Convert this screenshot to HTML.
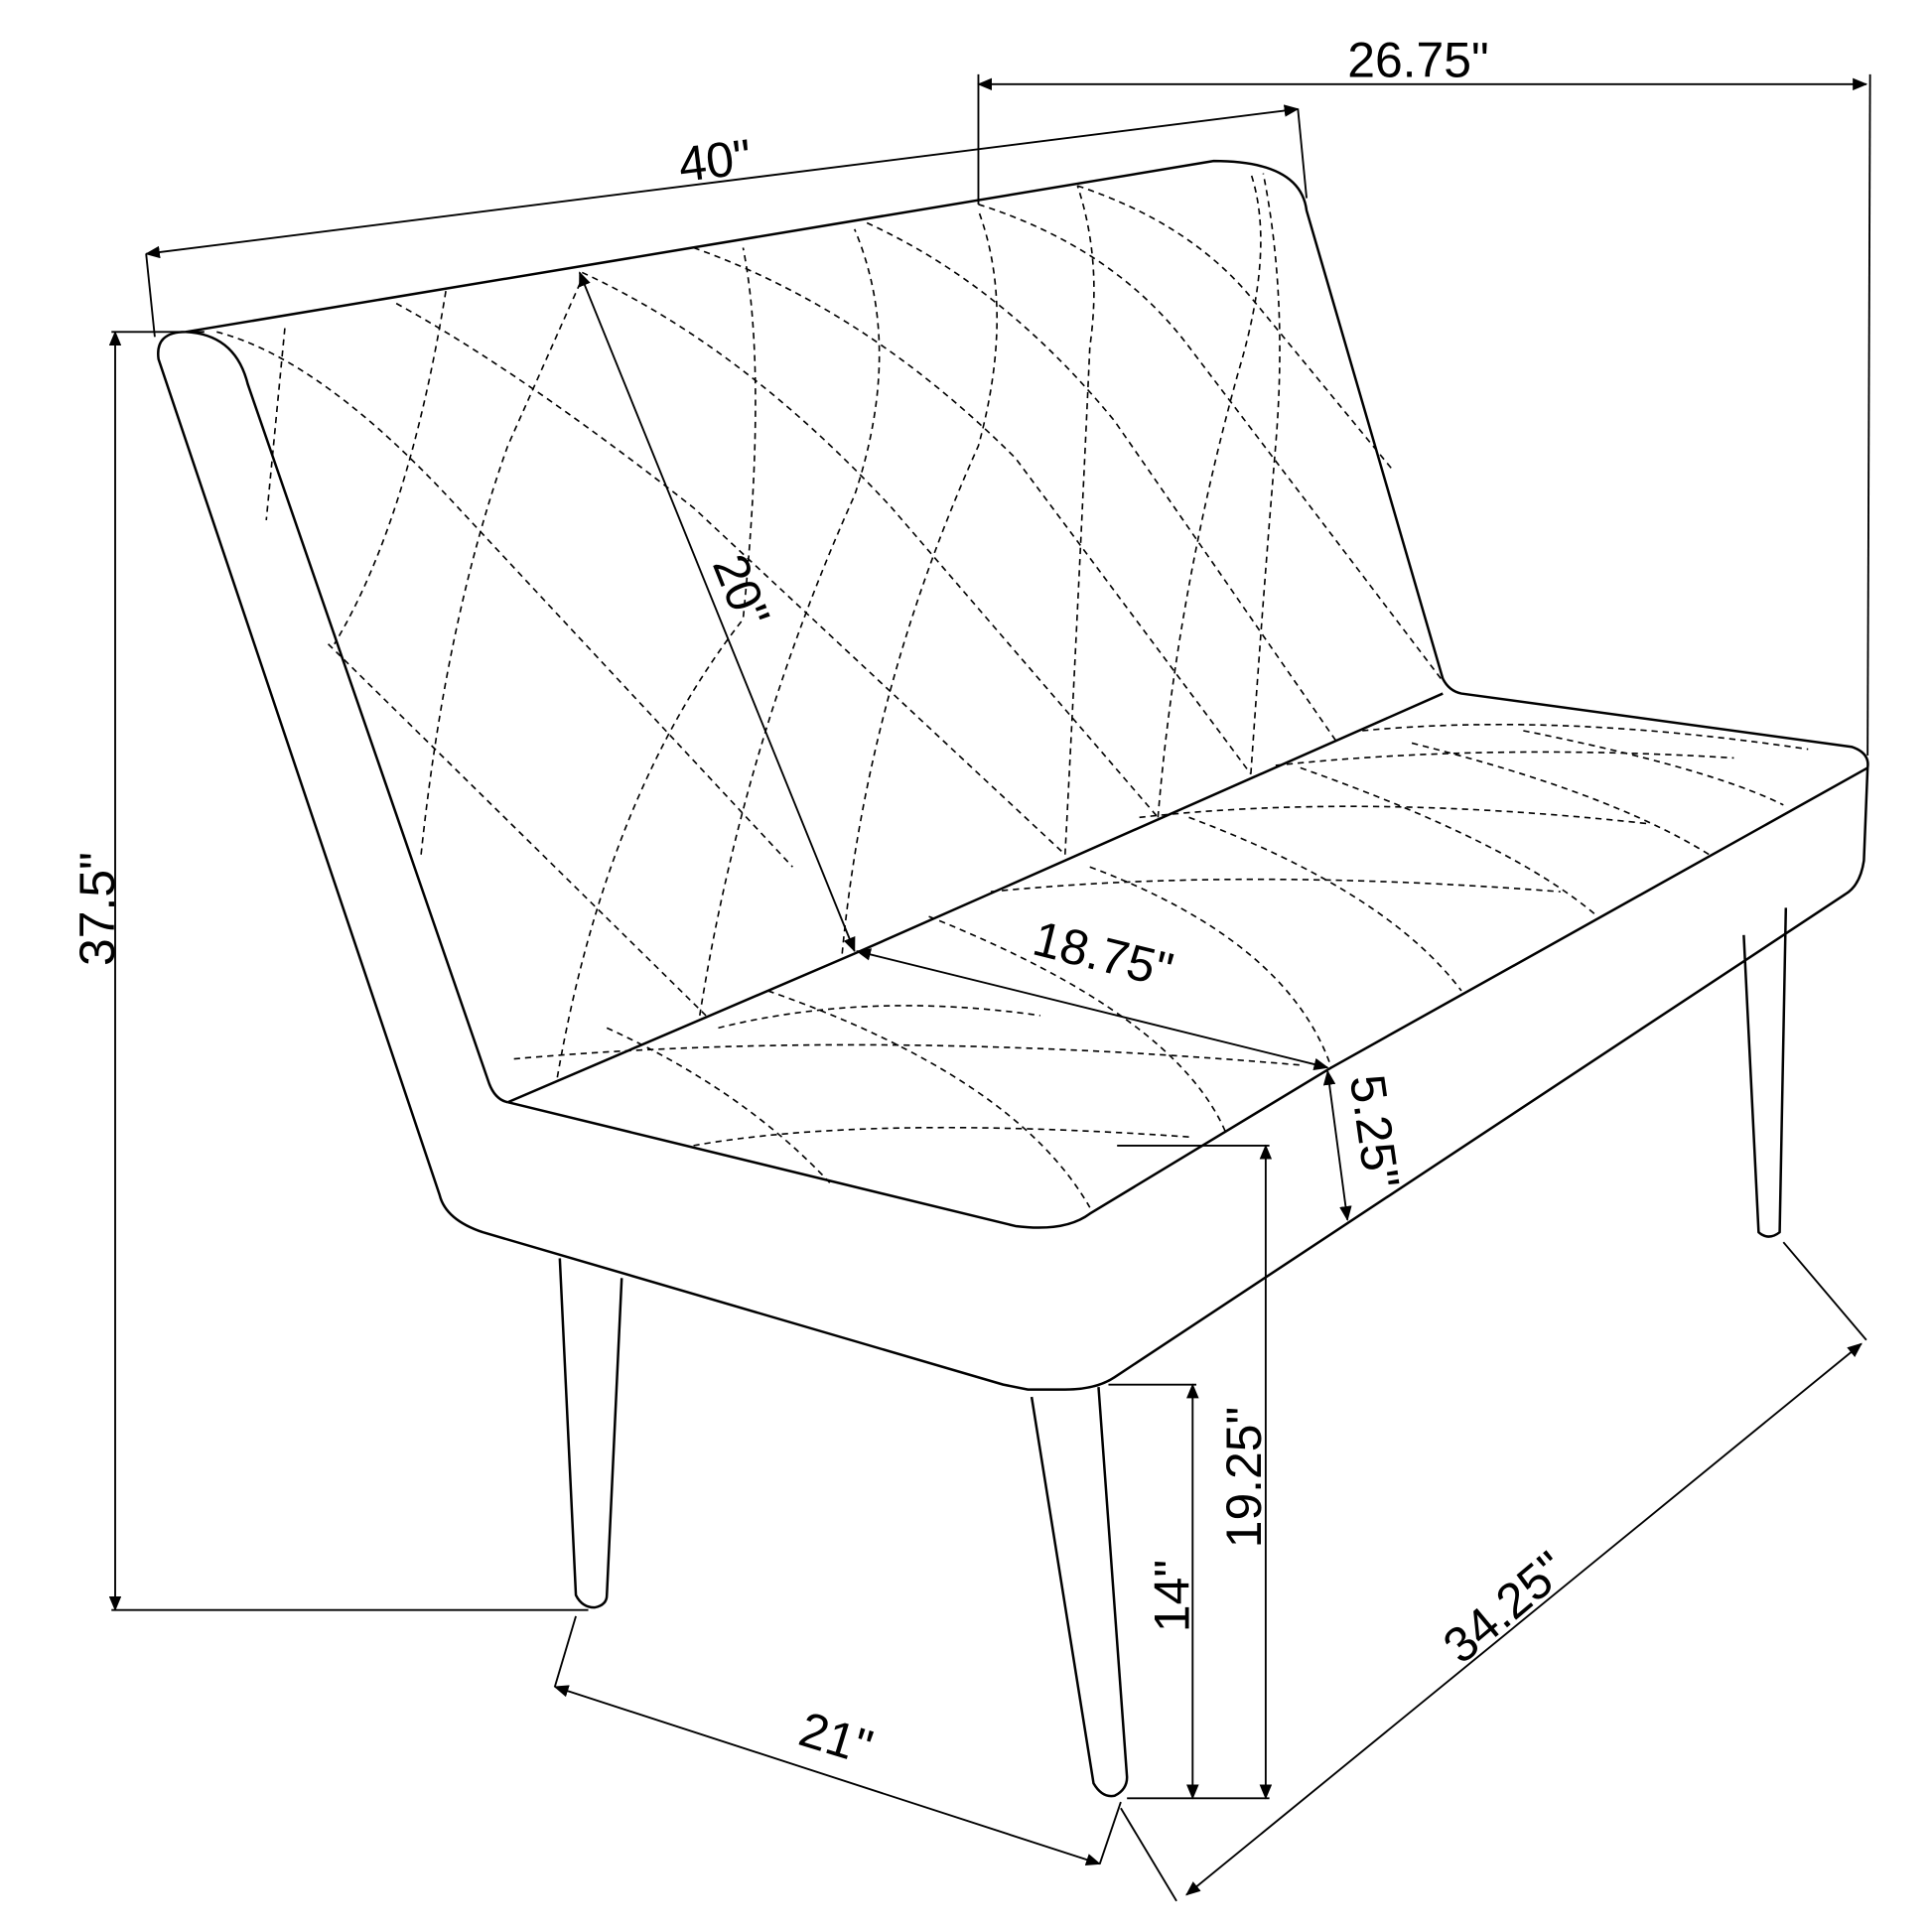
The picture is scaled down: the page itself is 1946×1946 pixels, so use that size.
<!DOCTYPE html>
<html><head><meta charset="utf-8"><style>
html,body{margin:0;padding:0;background:#fff;}
svg{display:block}
text{font-family:"Liberation Sans",sans-serif;font-size:40px;fill:#000}
</style></head><body>
<svg width="1946" height="1946" viewBox="0 0 1560 1560" xmlns="http://www.w3.org/2000/svg">
<defs>
<marker id="a" markerWidth="12" markerHeight="10" refX="11" refY="5" orient="auto-start-reverse" markerUnits="userSpaceOnUse" viewBox="0 0 12 10"><path d="M0,0 L12,5 L0,10 z" fill="#000"/></marker>
</defs>
<g fill="none" stroke="#000" stroke-width="2" stroke-linejoin="round">
<!-- backrest outer -->
<path d="M390,995 Q360,985 355,965 L128,290 Q125,268 150,268 L980,130 Q1050,130 1055,170 L1165,548 Q1170,558 1180,560 L1495,603 Q1510,608 1508,620 L1505,695 Q1502,715 1490,722 L900,1112 Q885,1122 860,1122 L830,1122 Q820,1120 810,1118 L390,995"/>
<path d="M150,268 Q190,270 200,310 L395,875 Q400,888 410,890"/>
<path d="M410,890 L820,990 Q860,995 880,980 L1075,862 L1508,620"/>
<path d="M410,890 L690,770 L1165,560"/>
<!-- legs -->
<path d="M452,1016 L465,1288 Q470,1298 480,1298 Q490,1296 490,1288 L502,1032"/>
<path d="M833,1128 L883,1440 Q890,1452 900,1450 Q910,1445 910,1435 L887,1120"/>
<path d="M1408,755 L1420,995 Q1428,1002 1437,995 L1442,733"/>
</g>
<!-- quilting -->
<g fill="none" stroke="#000" stroke-width="1.3" stroke-dasharray="5,4">
<path d="M175,268 Q260,290 370,410 L640,700"/>
<path d="M320,245 Q420,300 560,410 L860,690"/>
<path d="M470,220 Q600,280 720,410 L935,660"/>
<path d="M560,200 Q700,250 820,370 L1010,625"/>
<path d="M700,180 Q810,230 900,340 L1080,600"/>
<path d="M790,165 Q900,200 960,280 L1165,550"/>
<path d="M870,150 Q960,180 1010,240 L1125,380"/>
<path d="M230,265 L215,420"/>
<path d="M360,235 Q330,420 270,520"/>
<path d="M265,520 L570,820"/>
<path d="M340,690 Q360,500 410,360 L470,225"/>
<path d="M450,870 Q490,640 600,500 Q620,300 600,200"/>
<path d="M565,820 Q600,600 690,400 Q730,280 690,185"/>
<path d="M680,770 Q700,560 790,360 Q820,250 790,170"/>
<path d="M860,690 Q870,500 880,280 Q890,210 870,150"/>
<path d="M935,660 Q950,480 1000,300 Q1030,200 1010,140"/>
<path d="M1010,625 Q1020,480 1030,360 Q1040,240 1020,140"/>
<path d="M415,855 Q700,830 1050,860"/>
<path d="M560,925 Q700,900 960,918"/>
<path d="M580,830 Q700,800 840,820"/>
<path d="M800,720 Q1000,700 1260,720"/>
<path d="M920,660 Q1100,640 1330,665"/>
<path d="M1030,618 Q1200,600 1400,612"/>
<path d="M1100,590 Q1260,575 1460,605"/>
<path d="M490,830 Q600,880 670,955"/>
<path d="M620,800 Q820,870 880,975"/>
<path d="M750,740 Q950,820 990,915"/>
<path d="M880,700 Q1040,760 1075,862"/>
<path d="M960,660 Q1120,720 1180,800"/>
<path d="M1050,620 Q1220,680 1290,740"/>
<path d="M1140,600 Q1300,640 1380,690"/>
<path d="M1230,590 Q1380,620 1440,650"/>
</g>
<!-- dimensions -->
<g fill="none" stroke="#000" stroke-width="1.5">
<line x1="118" y1="205" x2="1048" y2="88" marker-start="url(#a)" marker-end="url(#a)"/>
<line x1="118" y1="205" x2="125" y2="272"/>
<line x1="1048" y1="88" x2="1055" y2="160"/>
<line x1="790" y1="68" x2="1507" y2="68" marker-start="url(#a)" marker-end="url(#a)"/>
<line x1="790" y1="60" x2="790" y2="165"/>
<line x1="1510" y1="60" x2="1508" y2="610"/>
<line x1="93" y1="268" x2="93" y2="1300" marker-start="url(#a)" marker-end="url(#a)"/>
<line x1="90" y1="268" x2="165" y2="268"/>
<line x1="90" y1="1300" x2="475" y2="1300"/>
<line x1="468" y1="220" x2="690" y2="768" marker-start="url(#a)" marker-end="url(#a)"/>
<line x1="692" y1="768" x2="1072" y2="862" marker-start="url(#a)" marker-end="url(#a)"/>
<line x1="1072" y1="865" x2="1088" y2="985" marker-start="url(#a)" marker-end="url(#a)"/>
<line x1="1022" y1="925" x2="1022" y2="1452" marker-start="url(#a)" marker-end="url(#a)"/>
<line x1="902" y1="925" x2="1025" y2="925"/>
<line x1="963" y1="1118" x2="963" y2="1452" marker-start="url(#a)" marker-end="url(#a)"/>
<line x1="895" y1="1118" x2="966" y2="1118"/>
<line x1="910" y1="1452" x2="1025" y2="1452"/>
<line x1="448" y1="1362" x2="888" y2="1505" marker-start="url(#a)" marker-end="url(#a)"/>
<line x1="448" y1="1362" x2="465" y2="1305"/>
<line x1="888" y1="1505" x2="905" y2="1455"/>
<line x1="958" y1="1530" x2="1503" y2="1085" marker-start="url(#a)" marker-end="url(#a)"/>
<line x1="905" y1="1460" x2="950" y2="1535"/>
<line x1="1440" y1="1003" x2="1507" y2="1082"/>
</g>
<text x="1088" y="62">26.75"</text>
<text x="548" y="143" transform="rotate(-7 580 130)">40"</text>
<text x="0" y="0" transform="translate(92,780) rotate(-90)">37.5"</text>
<text x="0" y="0" transform="translate(575,455) rotate(68)">20"</text>
<text x="0" y="0" transform="translate(832,770) rotate(14)">18.75"</text>
<text x="0" y="0" transform="translate(1090,870) rotate(82)">5.25"</text>
<text x="0" y="0" transform="translate(1018,1250) rotate(-90)">19.25"</text>
<text x="0" y="0" transform="translate(960,1318) rotate(-90)">14"</text>
<text x="0" y="0" transform="translate(643,1408) rotate(17)">21"</text>
<text x="0" y="0" transform="translate(1180,1345) rotate(-40)">34.25"</text>
</svg>
</body></html>
